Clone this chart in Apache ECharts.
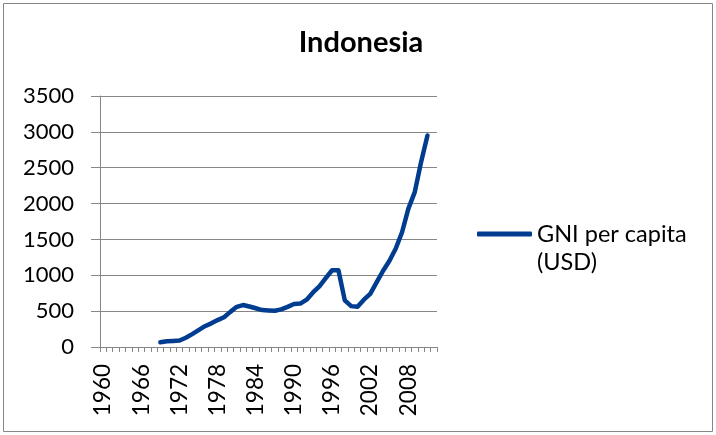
<!DOCTYPE html>
<html>
<head>
<meta charset="utf-8">
<script src="https://cdn.jsdelivr.net/npm/echarts@6/dist/echarts.min.js"></script>
<style>
html,body{margin:0;padding:0;background:#fff;}
#chart{width:716px;height:435px;}
</style>
</head>
<body>
<div id="chart"></div>
<script>
const years = ['1960','1961','1962','1963','1964','1965','1966','1967','1968','1969',
  '1970','1971','1972','1973','1974','1975','1976','1977','1978','1979',
  '1980','1981','1982','1983','1984','1985','1986','1987','1988','1989',
  '1990','1991','1992','1993','1994','1995','1996','1997','1998','1999',
  '2000','2001','2002','2003','2004','2005','2006','2007','2008','2009',
  '2010','2011','2012'];
const gniPerCapita = [null,null,null,null,null,null,null,null,null,65,
  80,85,90,130,180,235,290,330,375,415,
  490,560,585,565,540,515,510,505,525,560,
  600,605,660,760,845,960,1070,1070,650,570,
  560,660,740,900,1060,1200,1370,1600,1930,2160,
  2580,2950,null];
const seriesName = 'GNI per capita (USD)';
const legendLines = ['GNI per capita', '(USD)'];
const chartTitle = 'Indonesia';
const yTicks = [0,500,1000,1500,2000,2500,3000,3500];

const FONT = 'Lato';
const chart = echarts.init(document.getElementById('chart'));
chart.setOption({
  animation: false,
  backgroundColor: '#fff',
  graphic: [{
    type: 'rect', silent: true,
    shape: {x: 3.5, y: 3.5, width: 709, height: 428},
    style: {fill: 'none', stroke: '#868686', lineWidth: 1}
  }],
  title: {
    text: chartTitle,
    left: 361, top: 28, padding: 0, textAlign: 'center',
    textStyle: {fontFamily: FONT, fontWeight: 'bold', fontSize: 29, color: '#000'}
  },
  legend: {
    left: 477, top: 192, padding: 0,
    itemWidth: 55, itemHeight: 5, itemGap: 0,
    icon: 'roundRect',
    formatter: function (n) { return '\n' + legendLines.join('\n'); },
    textStyle: {fontFamily: FONT, fontSize: 23.5, color: '#000', lineHeight: 28},
    data: [seriesName]
  },
  grid: {left: 100, right: 279, top: 96, bottom: 88, containLabel: false},
  xAxis: {
    type: 'category', data: years, boundaryGap: true,
    axisLine: {lineStyle: {color: '#868686', width: 1}},
    axisTick: {show: true, interval: 0, length: 5, lineStyle: {color: '#868686'}},
    axisLabel: {interval: 5, rotate: 90, margin: 17, fontFamily: FONT, fontSize: 22.5, color: '#000', hideOverlap: false},
    splitLine: {show: false}
  },
  yAxis: {
    type: 'value', min: yTicks[0], max: yTicks[yTicks.length-1], interval: 500,
    axisLine: {show: true, lineStyle: {color: '#868686', width: 1}},
    axisTick: {show: true, length: 9, lineStyle: {color: '#868686'}},
    axisLabel: {margin: 26, fontFamily: FONT, fontSize: 22, color: '#000', formatter: function (v) { return String(v); }},
    splitLine: {lineStyle: {color: '#868686', width: 1}}
  },
  series: [{
    name: seriesName, type: 'line', data: gniPerCapita,
    showSymbol: false, symbol: 'none', connectNulls: false,
    lineStyle: {color: '#003C8F', width: 4.5, cap: 'round', join: 'round'},
    itemStyle: {color: '#003C8F'}
  }]
});
</script>
</body>
</html>
